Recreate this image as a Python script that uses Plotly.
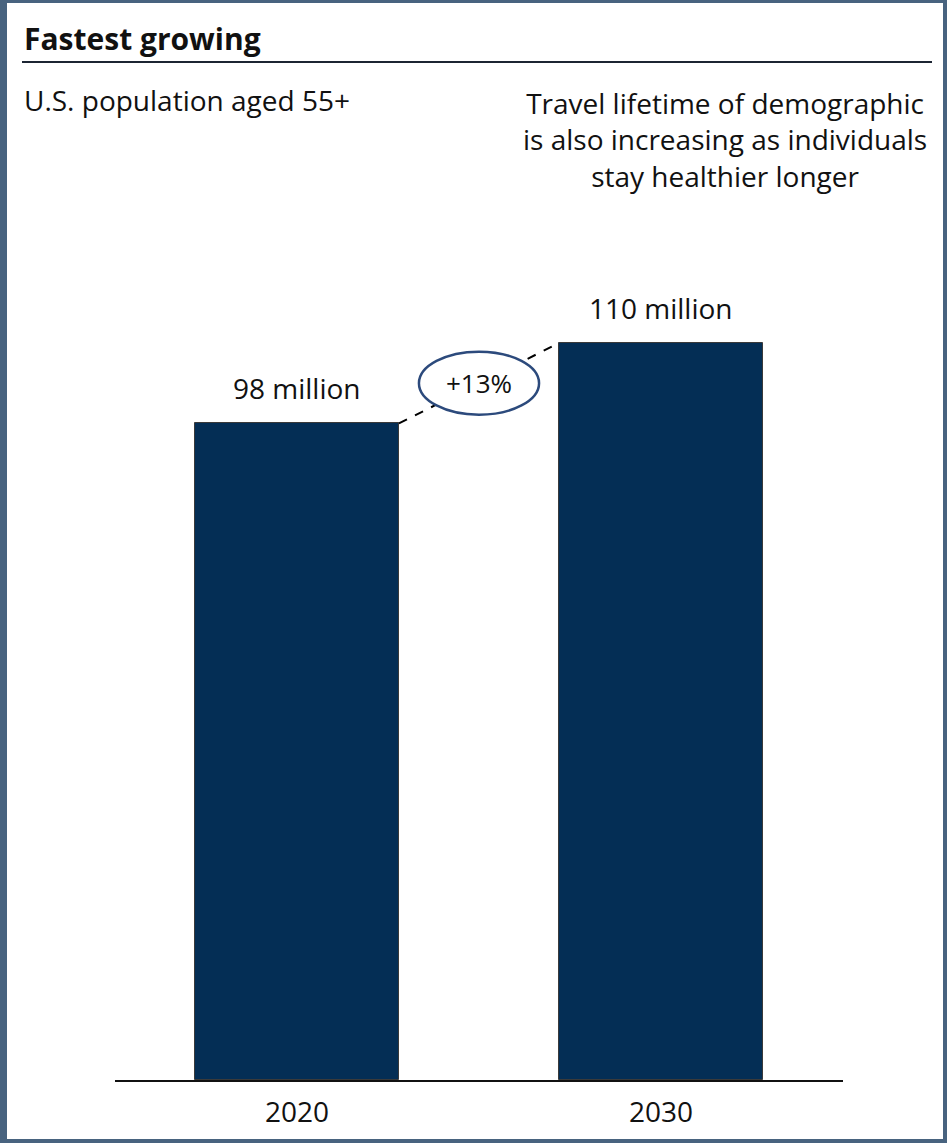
import plotly.graph_objects as go

# ---- data ----
years = ["2020", "2030"]
population_millions = [98, 110]
growth_label = "+13%"

title_text = "Fastest growing"
subtitle_text = "U.S. population aged 55+"
note_text = "Travel lifetime of demographic<br>is also increasing as individuals<br>stay healthier longer"

# ---- layout geometry ----
W, H = 947, 1143
ML, MR, MT, MB = 115, 104, 276, 63
PW = W - ML - MR
PH = H - MT - MB

def px(x):
    return (x - ML) / PW

def py(y):
    return (H - MB - y) / PH

FONT = "Open Sans"
BAR_COLOR = "#042E55"
BORDER = "#48637F"

fig = go.Figure()
fig.add_trace(go.Bar(
    x=[0, 1],
    y=population_millions,
    width=0.56,
    marker=dict(color=BAR_COLOR, line=dict(color="#3a3a3a", width=1)),
    hoverinfo="skip",
))

bw = 0.56 / 2
shapes = []
# dashed connector between bar tops
shapes.append(dict(type="line", xref="x", yref="y",
                   x0=0 + bw, y0=population_millions[0],
                   x1=1 - bw, y1=population_millions[1],
                   line=dict(color="black", width=2, dash="dash")))
# ellipse around growth label
ymid = (population_millions[0] + population_millions[1]) / 2
shapes.append(dict(type="circle", xref="x", yref="y",
                   x0=0.5 - 0.165, x1=0.5 + 0.165,
                   y0=ymid - 4.7, y1=ymid + 4.7,
                   fillcolor="white",
                   line=dict(color="#2C4A7C", width=2.5)))
# title underline
shapes.append(dict(type="line", xref="paper", yref="paper",
                   x0=px(22), x1=px(932), y0=py(62), y1=py(62),
                   line=dict(color="#1C2533", width=2)))
# frame border
for (x0, y0, x1, y1) in [(0, 0, 7, H), (0, 0, W, 3), (943, 0, W, H), (0, 1139, W, H)]:
    shapes.append(dict(type="rect", xref="paper", yref="paper",
                       x0=px(x0), x1=px(x1), y0=py(y1), y1=py(y0),
                       fillcolor=BORDER, line=dict(width=0), layer="above"))

annotations = []
for i, v in enumerate(population_millions):
    annotations.append(dict(x=i, y=v, xref="x", yref="y",
                            text=f"{v} million", showarrow=False,
                            yanchor="bottom", yshift=14,
                            font=dict(family=FONT, size=28, color="#111111")))
annotations.append(dict(x=0.5, y=ymid, xref="x", yref="y", text=growth_label,
                        showarrow=False, yanchor="middle", xanchor="center",
                        font=dict(family=FONT, size=26, color="#111111")))
annotations.append(dict(x=px(22), y=py(38), xref="paper", yref="paper",
                        text=f"<b>{title_text}</b>", showarrow=False,
                        xanchor="left", yanchor="middle",
                        font=dict(family=FONT, size=30, color="#111111")))
annotations.append(dict(x=px(22), y=py(100), xref="paper", yref="paper",
                        text=subtitle_text, showarrow=False,
                        xanchor="left", yanchor="middle",
                        font=dict(family=FONT, size=28, color="#111111")))
annotations.append(dict(x=px(725), y=py(139), xref="paper", yref="paper",
                        text=note_text, showarrow=False, align="center",
                        xanchor="center", yanchor="middle",
                        font=dict(family=FONT, size=28, color="#111111")))

fig.update_layout(
    width=W, height=H,
    margin=dict(l=ML, r=MR, t=MT, b=MB, pad=0),
    paper_bgcolor="white", plot_bgcolor="white",
    showlegend=False,
    shapes=shapes,
    annotations=annotations,
    bargap=0,
)
fig.update_xaxes(range=[-0.5, 1.5], tickvals=[0, 1], ticktext=years,
                 showgrid=False, zeroline=False, showline=True,
                 linecolor="#111111", linewidth=2, ticks="",
                 ticklabelstandoff=6,
                 tickfont=dict(family=FONT, size=28, color="#111111"),
                 fixedrange=True)
fig.update_yaxes(range=[0, 120], visible=False, showgrid=False, zeroline=False,
                 fixedrange=True)

fig.write_html("out.html", config={"displayModeBar": False})
